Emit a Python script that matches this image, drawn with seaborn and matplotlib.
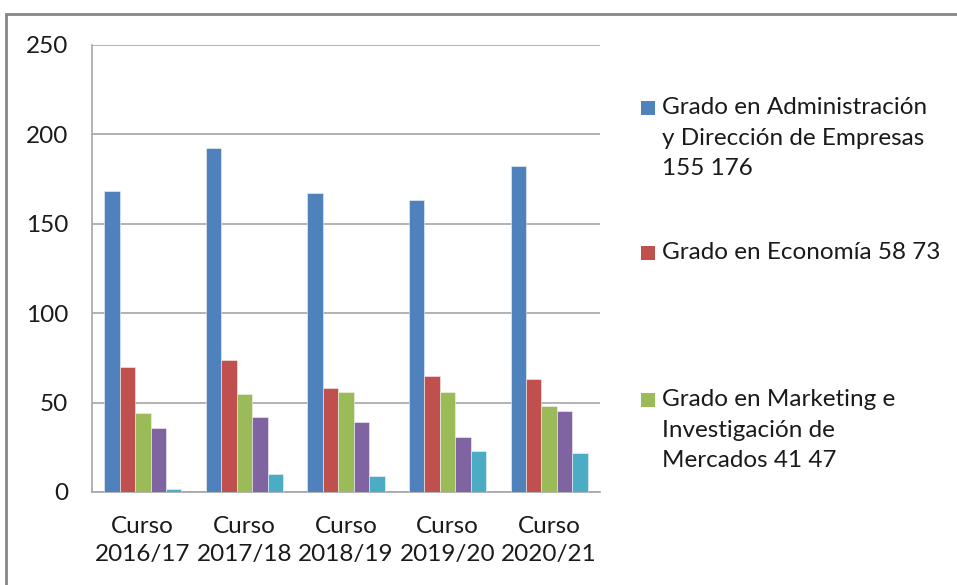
import matplotlib
matplotlib.use('Agg')
import matplotlib.pyplot as plt
from matplotlib.patches import Rectangle
import seaborn as sns
import pandas as pd

# data
cursos = ["Curso\n2016/17", "Curso\n2017/18", "Curso\n2018/19", "Curso\n2019/20", "Curso\n2020/21"]
series = ["ADE", "Economía", "Marketing", "Serie 4", "Serie 5"]
ade = [168, 192, 167, 163, 182]
economia = [70, 74, 58, 65, 63]
marketing = [44, 55, 56, 56, 48]
serie4 = [36, 42, 39, 31, 45]
serie5 = [1.5, 10, 9, 23, 22]
colors = ["#4F81BD", "#C0504D", "#9BBB59", "#8064A2", "#4BACC6"]
legend_labels = [
    "Grado en Administración\ny Dirección de Empresas\n155 176",
    "Grado en Economía 58 73",
    "Grado en Marketing e\nInvestigación de\nMercados 41 47",
]

rows = []
for name, vals in zip(series, [ade, economia, marketing, serie4, serie5]):
    for c, v in zip(cursos, vals):
        rows.append({"curso": c, "serie": name, "valor": v})
df = pd.DataFrame(rows)

sns.set_theme(style="white")
plt.rcParams['font.family'] = ['Lato', 'DejaVu Sans']

W, H = 957, 585
fig = plt.figure(figsize=(W / 100, H / 100), dpi=100)
ax = fig.add_axes([92 / W, 1 - 492 / H, (600 - 92) / W, (492 - 44.7) / H])

sns.barplot(data=df, x="curso", y="valor", hue="serie", palette=colors, saturation=1,
            width=0.76, gap=0, ax=ax, legend=False, edgecolor="#f4f4f4", linewidth=0.4,
            zorder=3)

grid_c = "#A6A6A6"
txt_c = "#1a1a1a"
fs = 17.5
ax.set_ylim(0, 250)
ax.set_xlim(-0.5, 4.5)
ax.set_yticks(range(0, 251, 50))
ax.yaxis.grid(True, color=grid_c, linewidth=1.2, zorder=0)
ax.set_axisbelow(True)
for s in ["top", "right"]:
    ax.spines[s].set_visible(False)
for s in ["left", "bottom"]:
    ax.spines[s].set_color(grid_c)
    ax.spines[s].set_linewidth(1.2)
ax.set_xlabel("")
ax.set_ylabel("")
ax.tick_params(axis="y", length=7, width=1.2, color=grid_c, pad=10, labelsize=fs, labelcolor=txt_c)
ax.tick_params(axis="x", which="major", length=0, pad=17, labelsize=fs, labelcolor=txt_c)
ax.set_xticks([i + 0.5 for i in range(-1, 5)], minor=True)
ax.tick_params(axis="x", which="minor", length=7, width=1.2, color=grid_c)
for t in ax.get_xticklabels():
    t.set_linespacing(1.45)

# legend (only the first three entries are visible in the reference)
ys = [108, 253, 400]
for lab, col, y in zip(legend_labels, colors, ys):
    fig.patches.append(Rectangle((641 / W, 1 - (y + 7) / H), 14 / W, 14 / H,
                                 transform=fig.transFigure, facecolor=col, edgecolor="none"))
    fig.text(662 / W, 1 - (y - 11) / H, lab, fontsize=fs, va="top", ha="left",
             linespacing=1.57, color=txt_c)

# chart frame
fig.patches.append(Rectangle((6 / W, -0.1), 1.2, 1.1 - 14 / H, transform=fig.transFigure,
                             facecolor="none", edgecolor="#868686", linewidth=2))

fig.savefig("out.png", dpi=100)
